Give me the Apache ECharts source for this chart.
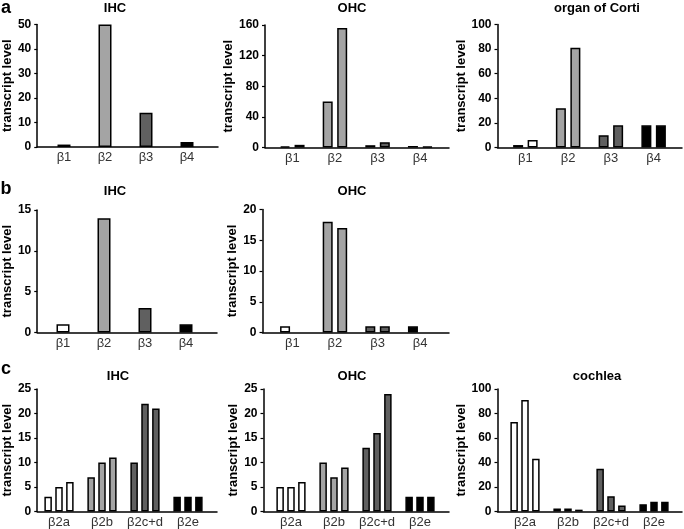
<!DOCTYPE html>
<html>
<head>
<meta charset="utf-8">
<script src="https://cdn.jsdelivr.net/npm/echarts@6/dist/echarts.min.js"></script>
<style>
  html, body { margin: 0; padding: 0; background: #fff; }
  #chart { width: 684px; height: 529px; }
</style>
</head>
<body>
<div id="chart"></div>
<script>
// categories
const betaCats = ['β1', 'β2', 'β3', 'β4']
const spliceCats = ['β2a', 'β2b', 'β2c+d', 'β2e']

// a: subunit transcripts
const aIHC = [1, 50, 14, 2]
const aOHC1 = [1.5, 60, 3, 2]
const aOHC2 = [3.5, 156, 7, 1]
const aCorti1 = [2, 32, 10, 18]
const aCorti2 = [6, 81, 18, 18]

// b: subunit transcripts
const bIHC = [1, 14, 3, 1]
const bOHC1 = [1, 18, 1, 1]
const bOHC2 = [null, 17, 1, null]

// c: β2 splice variants
const cIHC1 = [3, 7, 10, 3]
const cIHC2 = [5, 10, 22, 3]
const cIHC3 = [6, 11, 21, 3]
const cOHC1 = [5, 10, 13, 3]
const cOHC2 = [5, 7, 16, 3]
const cOHC3 = [6, 9, 24, 3]
const cCochlea1 = [73, 2.5, 35, 6]
const cCochlea2 = [91, 2.5, 12.5, 8]
const cCochlea3 = [43, 1.5, 5, 8]

// y-axis ranges (max, tick step)
const yMax = { aIHC: 50, aOHC: 160, aCorti: 100, bIHC: 15, bOHC: 20, cIHC: 25, cOHC: 25, cCochlea: 100 }
const yStep = { aIHC: 10, aOHC: 40, aCorti: 20, bIHC: 5, bOHC: 5, cIHC: 5, cOHC: 5, cCochlea: 20 }

const fills = ['#ffffff', '#a4a4a4', '#606060', '#000000']
const FONT = 'Arial, "Liberation Sans", sans-serif'
const W = 684, H = 529

const grid = [], xAxis = [], yAxis = [], series = [], graphic = []

// one panel = an outer grid for the axis lines + an inner grid holding the category bands
function addPanel(p) {
  const gi = grid.length
  grid.push({ left: p.axisX, right: W - p.axisEnd, top: p.top, bottom: H - p.zero })
  grid.push({ left: p.innerL, right: W - p.innerR, top: p.top, bottom: H - p.zero })

  xAxis.push({
    gridIndex: gi, type: 'value', min: 0, max: 1,
    axisLine: { show: true, lineStyle: { color: '#000', width: 1.5 } },
    axisTick: { show: false }, axisLabel: { show: false }, splitLine: { show: false }
  })
  yAxis.push({
    gridIndex: gi, type: 'value', min: 0, max: p.max, interval: p.step,
    name: 'transcript level', nameLocation: 'middle', nameGap: p.nameGap,
    nameTextStyle: { fontFamily: FONT, fontWeight: 'bold', fontSize: 13, color: '#000' },
    axisLine: { show: true, lineStyle: { color: '#000', width: 1.5 } },
    axisTick: { show: true, inside: false, length: 3, lineStyle: { color: '#000', width: 1.2 } },
    axisLabel: { fontFamily: FONT, fontWeight: 'bold', fontSize: 12, color: '#000', margin: 6 },
    splitLine: { show: false }
  })

  const xi = xAxis.length
  xAxis.push({
    gridIndex: gi + 1, type: 'category', data: p.cats,
    axisLine: { show: false }, axisTick: { show: false },
    axisLabel: { fontFamily: FONT, fontSize: 13, color: '#333', margin: 4, interval: 0 }
  })
  yAxis.push({ gridIndex: gi + 1, type: 'value', min: 0, max: p.max, show: false })

  const n = p.data.length
  const barWidth = n === 1 ? 13 : n === 2 ? 10 : 7.5
  p.data.forEach(arr => {
    series.push({
      type: 'bar', xAxisIndex: xi, yAxisIndex: xi, data: arr,
      barWidth: barWidth, barGap: '45%', silent: true,
      itemStyle: {
        color: params => fills[params.dataIndex],
        borderColor: '#000', borderWidth: 1.5
      }
    })
  })

  graphic.push({
    type: 'text', x: p.titleX, y: p.titleY,
    style: {
      text: p.title, font: 'bold 13px ' + FONT, fill: '#000',
      align: 'center', textAlign: 'center', verticalAlign: 'middle', textVerticalAlign: 'middle'
    }
  })
}

addPanel({ title: 'IHC', titleX: 115, titleY: 8, cats: betaCats, data: [aIHC],
  max: yMax.aIHC, step: yStep.aIHC, axisX: 28, axisEnd: 218, top: 24.5, zero: 147,
  innerL: 43.5, innerR: 207.5, nameGap: 14.5 })
addPanel({ title: 'OHC', titleX: 352, titleY: 8, cats: betaCats, data: [aOHC1, aOHC2],
  max: yMax.aOHC, step: yStep.aOHC, axisX: 265, axisEnd: 449, top: 25, zero: 147.5,
  innerL: 271, innerR: 441.5, nameGap: 25.5 })
addPanel({ title: 'organ of Corti', titleX: 597, titleY: 8, cats: betaCats, data: [aCorti1, aCorti2],
  max: yMax.aCorti, step: yStep.aCorti, axisX: 497.5, axisEnd: 682, top: 24.5, zero: 147.5,
  innerL: 504, innerR: 675, nameGap: 23 })

addPanel({ title: 'IHC', titleX: 115, titleY: 191, cats: betaCats, data: [bIHC],
  max: yMax.bIHC, step: yStep.bIHC, axisX: 30.5, axisEnd: 217, top: 210, zero: 332.5,
  innerL: 42.5, innerR: 206.5, nameGap: 17 })
addPanel({ title: 'OHC', titleX: 352, titleY: 191, cats: betaCats, data: [bOHC1, bOHC2],
  max: yMax.bOHC, step: yStep.bOHC, axisX: 262.5, axisEnd: 449, top: 209.5, zero: 332.5,
  innerL: 271, innerR: 441.5, nameGap: 22 })

addPanel({ title: 'IHC', titleX: 118, titleY: 376, cats: spliceCats, data: [cIHC1, cIHC2, cIHC3],
  max: yMax.cIHC, step: yStep.cIHC, axisX: 30.5, axisEnd: 217, top: 389, zero: 511.5,
  innerL: 37.5, innerR: 209.5, nameGap: 17 })
addPanel({ title: 'OHC', titleX: 352, titleY: 376, cats: spliceCats, data: [cOHC1, cOHC2, cOHC3],
  max: yMax.cOHC, step: yStep.cOHC, axisX: 263.5, axisEnd: 449, top: 389, zero: 511.5,
  innerL: 269.5, innerR: 441.5, nameGap: 24 })
addPanel({ title: 'cochlea', titleX: 597, titleY: 376, cats: spliceCats, data: [cCochlea1, cCochlea2, cCochlea3],
  max: yMax.cCochlea, step: yStep.cCochlea, axisX: 497.5, axisEnd: 682, top: 389, zero: 511.5,
  innerL: 503.5, innerR: 675.5, nameGap: 23 })

// panel letters
;[['a', 6, 8], ['b', 6, 189], ['c', 6, 369]].forEach(([t, x, y]) => {
  graphic.push({
    type: 'text', x: x, y: y,
    style: {
      text: t, font: 'bold 18px ' + FONT, fill: '#000',
      align: 'center', textAlign: 'center', verticalAlign: 'middle', textVerticalAlign: 'middle'
    }
  })
})

const chart = echarts.init(document.getElementById('chart'))
chart.setOption({
  animation: false,
  backgroundColor: '#fff',
  grid, xAxis, yAxis, series, graphic
})
</script>
</body>
</html>
